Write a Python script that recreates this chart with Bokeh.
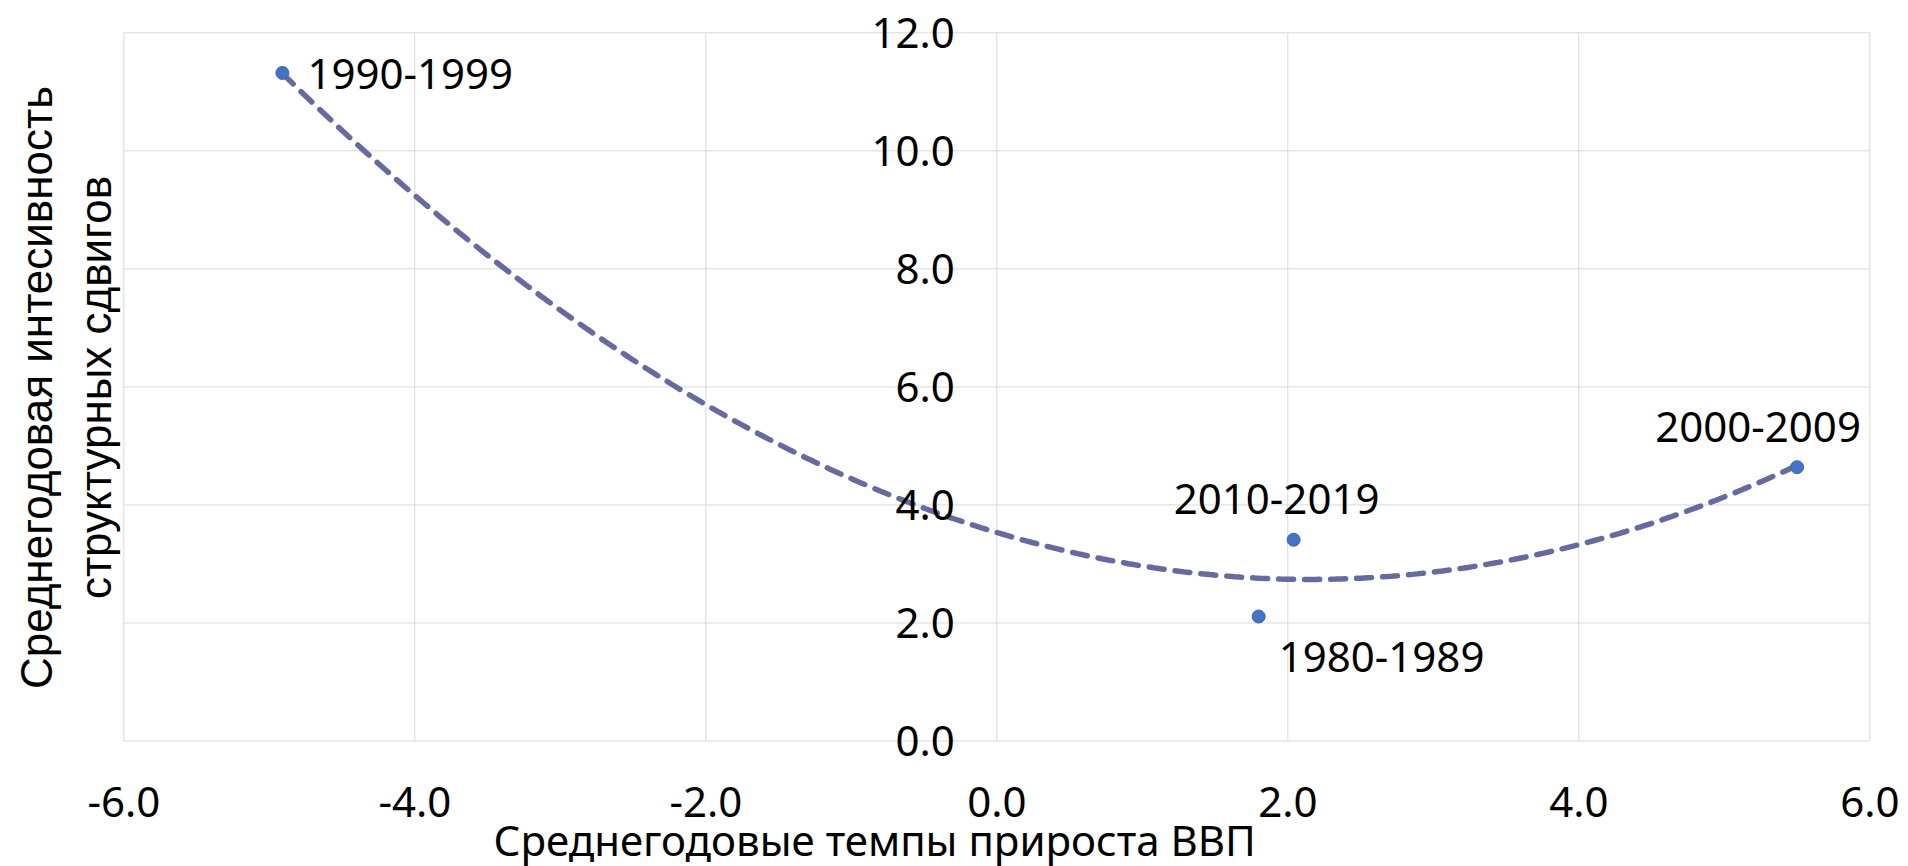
import math
import numpy as np
from bokeh.plotting import figure
from bokeh.models import (ColumnDataSource, LabelSet, Label, FixedTicker,
                          NumeralTickFormatter, LinearAxis, Range1d)
from bokeh.core.properties import value
from bokeh.embed import file_html
from bokeh.resources import INLINE

# ---- data ----
periods = ["1980-1989", "1990-1999", "2000-2009", "2010-2019"]
gdp_growth = [1.80, -4.91, 5.50, 2.04]
shift_intensity = [2.11, 11.32, 4.64, 3.41]

x_ticks = [-6, -4, -2, 0, 2, 4, 6]
y_ticks = [0, 2, 4, 6, 8, 10, 12]

x_title = "Среднегодовые темпы  прироста ВВП"
y_title_lines = ["Среднегодовая интесивность", "структурных сдвигов"]

# ---- layout / styling ----
W, H = 1908, 866
# pixel box of the plot area (x -6..6, y 0..12) inside the canvas
PX_L, PX_R, PX_T, PX_B = 123.3, 1869.3, 32.3, 740.5
x_lo, x_hi = x_ticks[0], x_ticks[-1]
y_lo, y_hi = y_ticks[0], y_ticks[-1]
ux = (PX_R - PX_L) / (x_hi - x_lo)
uy = (PX_B - PX_T) / (y_hi - y_lo)
xr = Range1d(x_lo - PX_L / ux, x_hi + (W - PX_R) / ux)
yr = Range1d(y_lo - (H - PX_B) / uy, y_hi + PX_T / uy)

lab_align = ["left", "left", "center", "center"]
lab_dx = [20, 25, -39, -17]
lab_dy = [-41, -1, 40, 41]

FONT = "Noto Sans"
GRID = "#d9d9d9"

p = figure(width=W, height=H, output_backend="svg", toolbar_location=None,
           x_range=xr, y_range=yr, x_axis_location=None, y_axis_location=None,
           min_border=0)
p.background_fill_color = "white"
p.border_fill_color = "white"
p.outline_line_color = None
p.xgrid.visible = False
p.ygrid.visible = False

# plot-area grid (including the border lines)
p.segment(x0=x_ticks, y0=[y_lo] * len(x_ticks), x1=x_ticks, y1=[y_hi] * len(x_ticks),
          line_color=GRID, line_width=1)
p.segment(x0=[x_lo] * len(y_ticks), y0=y_ticks, x1=[x_hi] * len(y_ticks), y1=y_ticks,
          line_color=GRID, line_width=1)

# x tick labels: axis fixed at y = 0
xa = LinearAxis(fixed_location=0, ticker=FixedTicker(ticks=x_ticks),
                formatter=NumeralTickFormatter(format="0.0"))
xa.axis_line_color = None
xa.major_tick_line_color = None
xa.minor_tick_line_color = None
xa.major_tick_out = 0
xa.major_tick_in = 0
xa.major_label_text_font = FONT
xa.major_label_text_font_size = "42px"
xa.major_label_text_color = "black"
xa.major_label_standoff = 46
p.add_layout(xa, "below")

# y tick labels: axis fixed at x = 0
ya = LinearAxis(fixed_location=0, ticker=FixedTicker(ticks=y_ticks),
                formatter=NumeralTickFormatter(format="0.0"))
ya.axis_line_color = None
ya.major_tick_line_color = None
ya.minor_tick_line_color = None
ya.major_tick_out = 0
ya.major_tick_in = 0
ya.major_label_text_font = FONT
ya.major_label_text_font_size = "42px"
ya.major_label_text_color = "black"
ya.major_label_standoff = 42
p.add_layout(ya, "left")

# axis titles
p.add_layout(Label(x=493, y=H - 838.5, x_units="screen", y_units="screen",
                   text=x_title, text_align="left", text_baseline="alphabetic",
                   text_font=FONT, text_font_size="42px", text_color="black"))
for bx, line in zip([36, 95], y_title_lines):
    p.add_layout(Label(x=bx, y=H - 387, x_units="screen", y_units="screen",
                       text=line, angle=math.pi / 2, text_align="center",
                       text_baseline="alphabetic", text_font="Liberation Sans",
                       text_font_size="44px", text_color="black"))

# trend line (2nd-order polynomial fit to the points)
coef = np.polyfit(gdp_growth, shift_intensity, 2)
xs = np.linspace(min(gdp_growth), max(gdp_growth), 300)
ys = np.polyval(coef, xs)
p.line(xs, ys, line_color="#676a9e", line_width=5.5, line_dash="15 11",
       line_cap="round")

# points
src = ColumnDataSource(dict(x=gdp_growth, y=shift_intensity, t=periods,
                            align=lab_align, dx=lab_dx, dy=lab_dy))
p.scatter("x", "y", source=src, size=13, fill_color="#4472C4",
          line_color="#3b64ad", line_width=1)

p.add_layout(LabelSet(x="x", y="y", text="t", source=src,
                      x_offset="dx", y_offset="dy", text_align="align",
                      text_baseline="middle", text_font=value(FONT),
                      text_font_size=value("42px"), text_color="black"))

open("out.html", "w").write(file_html(p, INLINE))
